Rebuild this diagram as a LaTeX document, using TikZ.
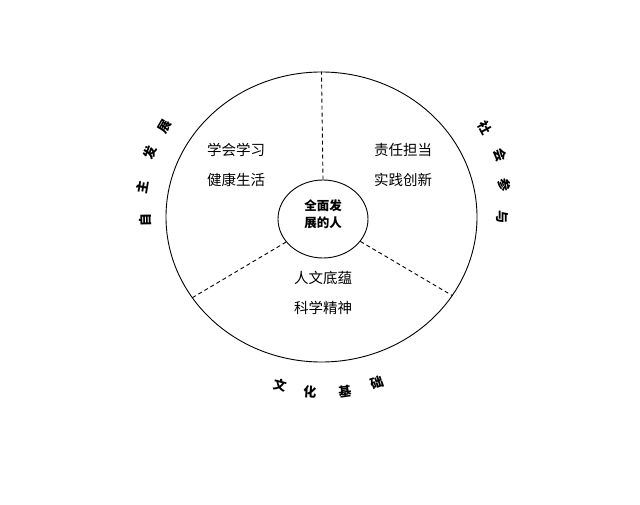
\documentclass[tikz,border=0pt]{standalone}
\usepackage{fontspec}
\newfontfamily\cjk{Noto Sans CJK SC}
\usetikzlibrary{shapes.geometric}

\begin{document}
\begin{tikzpicture}[x=1pt,y=-1pt]
    \tikzstyle{ring}=[ellipse, draw=black, line width=0.9pt, inner sep=0pt]
    \tikzstyle{field}=[font=\cjk\fontsize{14.5}{30}\selectfont, align=center]
    \tikzstyle{rim}=[font=\cjk\bfseries\fontsize{13}{13}\selectfont, inner sep=0pt]
    \useasboundingbox (0,0) rectangle (640,505);
    \node[ring, minimum width=311pt, minimum height=290pt] (outer) at (321.5,217) {};
    \node[ring, minimum width=90pt, minimum height=78pt] (core) at (323,219) {};
    \node[font=\cjk\bfseries\fontsize{12.5}{17}\selectfont, align=center] (whole) at (323,214) {全面发\\展的人};
    \foreach \a in {90,212.5,329} {
        \draw[dash pattern=on 4pt off 3pt, line width=0.9pt] (core.\a) -- (outer.\a);
    }
    \node[field] (study) at (236,165) {学会学习\\健康生活};
    \node[field] (duty) at (403,165) {责任担当\\实践创新};
    \node[field] (culture) at (323,293) {人文底蕴\\科学精神};
    \foreach \c/\x/\y/\r [count=\i] in {自/145/220/91, 主/142/187/80.5, 发/150/153/69.5, 展/165/127/60} {
        \node[rim, rotate=\r] (self\i) at (\x,\y) {\c};
    }
    \foreach \c/\x/\y/\r [count=\i] in {社/485/128/-61.4, 会/500/155/-70.8, 参/505/185/-80, 与/502/217/-90} {
        \node[rim, rotate=\r] (social\i) at (\x,\y) {\c};
    }
    \foreach \c/\x/\y/\r [count=\i] in {文/280/385/-13.9, 化/310/392/-3.8, 基/345/392/7.6, 础/377/383/18.5} {
        \node[rim, rotate=\r] (base\i) at (\x,\y) {\c};
    }
\end{tikzpicture}
\end{document}
